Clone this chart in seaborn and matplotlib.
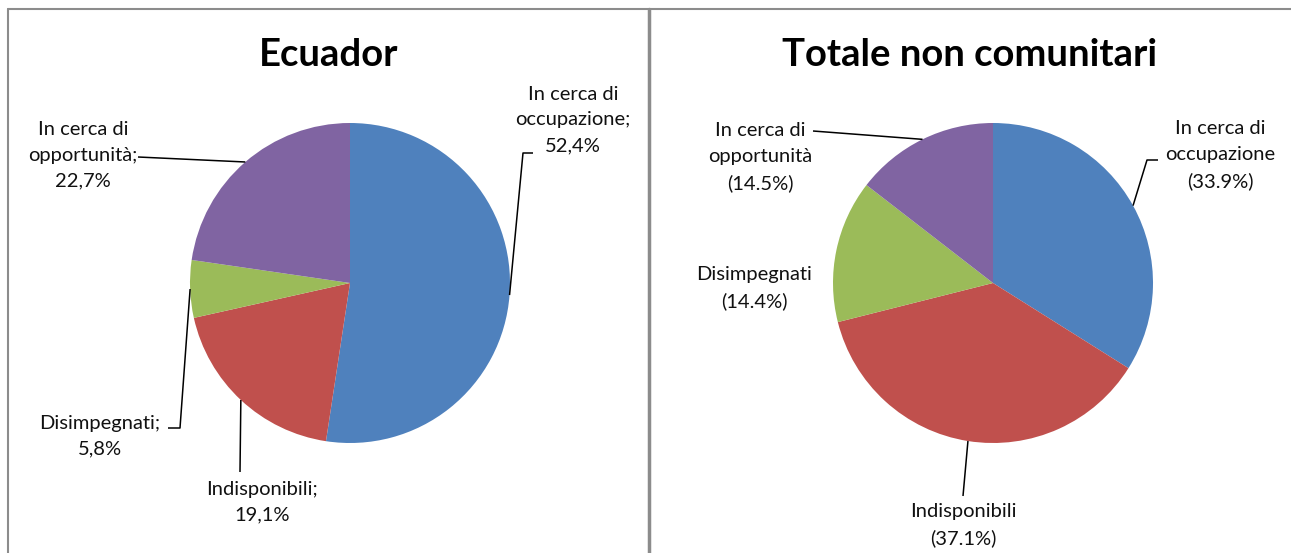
import numpy as np
import matplotlib
matplotlib.use("Agg")
import matplotlib.pyplot as plt
import seaborn as sns

# Data
categories = ["In cerca di occupazione", "Indisponibili", "Disimpegnati", "In cerca di opportunità"]
ecuador_values = [52.4, 19.1, 5.8, 22.7]
totale_values = [33.9, 37.1, 14.4, 14.5]
ecuador_labels = ["In cerca di\noccupazione;\n52,4%", "Indisponibili;\n19,1%",
                  "Disimpegnati;\n5,8%", "In cerca di\nopportunità;\n22,7%"]
totale_labels = ["In cerca di\noccupazione\n(33.9%)", "Indisponibili\n(37.1%)",
                 "Disimpegnati\n(14.4%)", "In cerca di\nopportunità\n(14.5%)"]
titles = ["Ecuador", "Totale non comunitari"]
colors = ["#4F81BD", "#C0504D", "#9BBB59", "#8064A2"]

sns.set_theme(style="white")
plt.rcParams["font.family"] = ["Lato", "DejaVu Sans"]

W, H = 1291, 553
fig = plt.figure(figsize=(W / 100, H / 100), dpi=100)
ax = fig.add_axes([0, 0, 1, 1])
ax.axis("off")


def fy(y):
    # layout below is written in top-origin pixels
    return H - y


R = 160
charts = [
    dict(values=ecuador_values, labels=ecuador_labels, title=titles[0],
         center=(350, 283), title_xy=(329, 55),
         text_xy=[(573, 120), (262, 502), (100, 436), (83, 155)],
         leader=[[(533, 153), (523, 153)], [(240, 472)], [(168, 428), (180, 428)], [(138, 157)]]),
    dict(values=totale_values, labels=totale_labels, title=titles[1],
         center=(993, 283), title_xy=(970, 55),
         text_xy=[(1220, 155), (963, 525), (754, 288), (760, 157)],
         leader=[[(1158, 160), (1147, 160)], [(963, 496)], None, [(813, 131)]]),
]

for ch in charts:
    cx, cy = ch["center"]
    wedges, _ = ax.pie(ch["values"], colors=colors, startangle=90, counterclock=False,
                       radius=R, center=(cx, fy(cy)), frame=True,
                       wedgeprops=dict(linewidth=0))
    ax.text(ch["title_xy"][0], fy(ch["title_xy"][1]), ch["title"], ha="center", va="center",
            fontsize=27.5, fontweight="bold", color="black")
    for w, lab, (tx, ty), lead in zip(wedges, ch["labels"], ch["text_xy"], ch["leader"]):
        ax.text(tx, fy(ty), lab, ha="center", va="center", fontsize=14.5,
                linespacing=1.62, color="#111111")
        if lead is None:
            continue
        mid = np.deg2rad((w.theta1 + w.theta2) / 2)
        anchor = (cx + R * np.cos(mid), fy(cy) + R * np.sin(mid))
        xs = [p[0] for p in lead] + [anchor[0]]
        ys = [fy(p[1]) for p in lead] + [anchor[1]]
        ax.plot(xs, ys, color="black", lw=1.1, solid_capstyle="butt")

ax.set_xlim(0, W)
ax.set_ylim(0, H)
ax.set_aspect("equal")

# chart frames
border = "#8c8c8c"
ax.plot([8, 8], [fy(9), 0], color=border, lw=1.5)
ax.plot([8, W], [fy(9), fy(9)], color=border, lw=1.5)
ax.plot([649, 649], [fy(9), 0], color=border, lw=2.5)

fig.savefig("out.png", dpi=100)
